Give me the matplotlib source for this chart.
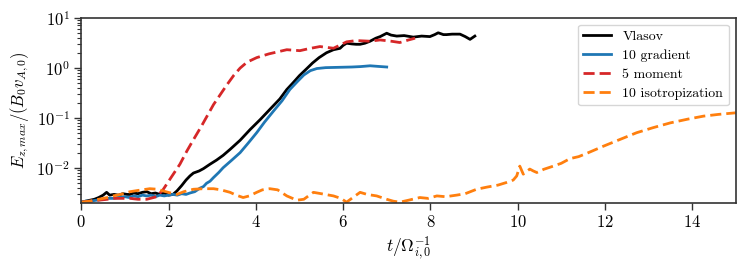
import matplotlib
matplotlib.use("Agg")
import matplotlib.pyplot as plt

# ---------------- data ----------------
t_vlasov = [0, 0.1, 0.2, 0.3, 0.4, 0.5, 0.58, 0.65, 0.75, 0.85, 0.95, 1.05, 1.12, 1.2, 1.3,
            1.4, 1.5, 1.6, 1.7, 1.8, 1.9, 2.0, 2.1, 2.19, 2.3, 2.4, 2.49, 2.57, 2.7, 2.8, 2.95,
            3.1, 3.25, 3.41, 3.64, 3.87, 4.1, 4.32, 4.55, 4.71, 4.85, 5.0, 5.17, 5.3, 5.45,
            5.62, 5.78, 5.93, 6.0, 6.08, 6.2, 6.3, 6.39, 6.5, 6.62, 6.75, 6.85, 7.0, 7.1,
            7.23, 7.4, 7.61, 7.8, 7.99, 8.1, 8.18, 8.3, 8.37, 8.5, 8.68, 8.8, 8.91, 9.02]
y_vlasov = [0.0021, 0.0022, 0.0023, 0.0024, 0.0026, 0.0029, 0.0033, 0.0029, 0.0030, 0.0029,
            0.0031, 0.0030, 0.0030, 0.0032, 0.0031, 0.0033, 0.0034, 0.0031, 0.0032, 0.0030,
            0.0032, 0.0029, 0.0030, 0.0035, 0.0045, 0.0058, 0.0070, 0.0080, 0.0088, 0.0098,
            0.0120, 0.0145, 0.0180, 0.0237, 0.036, 0.059, 0.093, 0.148, 0.24, 0.37, 0.50,
            0.70, 0.97, 1.25, 1.6, 2.0, 2.3, 2.45, 2.8, 3.1, 3.0, 2.95, 2.95, 3.1, 3.4, 3.9,
            4.2, 4.9, 4.5, 4.3, 4.4, 4.1, 4.3, 4.2, 4.6, 5.0, 4.6, 4.6, 4.7, 4.7, 4.2, 3.7, 4.3]

t_grad = [0, 0.1, 0.2, 0.35, 0.5, 0.6, 0.73, 0.85, 1.0, 1.1, 1.2, 1.3, 1.4, 1.5, 1.6, 1.7,
          1.8, 1.9, 2.0, 2.1, 2.2, 2.3, 2.4, 2.49, 2.6, 2.72, 2.8, 2.87, 2.95, 3.03, 3.15,
          3.25, 3.45, 3.64, 3.83, 4.02, 4.2, 4.4, 4.6, 4.78, 4.95, 5.1, 5.25, 5.4, 5.6, 5.8,
          6.0, 6.2, 6.4, 6.62, 6.8, 7.0]
y_grad = [0.0021, 0.0022, 0.0022, 0.0023, 0.0024, 0.0025, 0.0025, 0.0026, 0.0027, 0.0026,
          0.0028, 0.0027, 0.0029, 0.0028, 0.0029, 0.0027, 0.0029, 0.0028, 0.0029, 0.0030,
          0.0029, 0.0031, 0.0030, 0.0032, 0.0034, 0.0040, 0.0043, 0.0050, 0.0055, 0.0065,
          0.0082, 0.0102, 0.0145, 0.0204, 0.032, 0.051, 0.083, 0.136, 0.22, 0.37, 0.53,
          0.72, 0.88, 0.97, 1.01, 1.02, 1.03, 1.04, 1.06, 1.1, 1.07, 1.04]

t_five = [0, 0.2, 0.4, 0.6, 0.73, 0.9, 1.12, 1.3, 1.5, 1.73, 1.88, 2.03, 2.26, 2.42, 2.57,
          2.75, 3.03, 3.33, 3.5, 3.64, 3.8, 4.02, 4.3, 4.71, 5.01, 5.2, 5.47, 5.78, 6.08,
          6.3, 6.61, 6.85, 7.1, 7.3, 7.5, 7.65]
y_five = [0.0021, 0.0022, 0.0023, 0.0024, 0.0025, 0.0025, 0.0025, 0.0024, 0.0024, 0.0027,
          0.0038, 0.0060, 0.0120, 0.022, 0.037, 0.068, 0.185, 0.45, 0.72, 0.99, 1.3, 1.6,
          1.9, 2.3, 2.2, 2.4, 2.66, 2.46, 3.3, 3.5, 3.4, 3.6, 3.4, 3.2, 3.6, 3.9]

t_iso = [0, 0.2, 0.4, 0.6, 0.73, 0.9, 1.12, 1.3, 1.57, 1.75, 1.88, 2.05, 2.19, 2.35, 2.57,
         2.8, 3.03, 3.2, 3.41, 3.55, 3.71, 3.85, 4.02, 4.15, 4.32, 4.5, 4.71, 4.94, 5.1,
         5.32, 5.5, 5.78, 5.95, 6.08, 6.25, 6.39, 6.55, 6.77, 7.0, 7.15, 7.3, 7.5, 7.76,
         7.95, 8.15, 8.35, 8.6, 8.8, 9.06, 9.3, 9.55, 9.75, 9.9, 9.98, 10.05, 10.13, 10.2,
         10.28, 10.36, 10.44, 10.6, 10.82, 11.0, 11.2, 11.4, 11.6, 11.97, 12.3, 12.73,
         13.1, 13.5, 13.9, 14.26, 14.6, 15.0]
y_iso = [0.0021, 0.0022, 0.0024, 0.0026, 0.0028, 0.0030, 0.0034, 0.0036, 0.0039, 0.0038,
         0.0035, 0.0032, 0.0030, 0.0034, 0.0038, 0.0039, 0.0039, 0.0037, 0.0033, 0.0029,
         0.0026, 0.0028, 0.0033, 0.0037, 0.0039, 0.0037, 0.0028, 0.0023, 0.0024, 0.0033,
         0.0031, 0.0028, 0.0025, 0.0021, 0.0027, 0.0033, 0.0030, 0.0028, 0.0024, 0.0022,
         0.0021, 0.0023, 0.0026, 0.0025, 0.0028, 0.0027, 0.0029, 0.0031, 0.0038, 0.0042,
         0.0046, 0.0052, 0.0058, 0.0070, 0.0110, 0.0076, 0.0085, 0.0096, 0.0088, 0.0082,
         0.0095, 0.0110, 0.0125, 0.0155, 0.0170, 0.020, 0.0275, 0.036, 0.051, 0.064,
         0.080, 0.095, 0.109, 0.118, 0.127]

labels = ["Vlasov", "10 gradient", "5 moment", "10 isotropization"]
xticks = [0, 2, 4, 6, 8, 10, 12, 14]

# ---------------- style ----------------
plt.rcParams["font.family"] = ["cmr10", "DejaVu Serif"]
plt.rcParams["mathtext.fontset"] = "cm"
plt.rcParams["axes.formatter.use_mathtext"] = True
plt.rcParams["font.size"] = 12

fig = plt.figure(figsize=(7.48, 2.71), dpi=100)
ax = fig.add_axes([0.1087, 0.252, 0.8749, 0.6827])

dash = (0, (4.0, 1.8))
ax.plot(t_vlasov, y_vlasov, color="black", lw=2.0, label=labels[0])
ax.plot(t_grad, y_grad, color="#1f77b4", lw=2.0, label=labels[1])
ax.plot(t_five, y_five, color="#d62728", lw=2.0, ls=dash, label=labels[2])
ax.plot(t_iso, y_iso, color="#ff7f0e", lw=2.0, ls=dash, label=labels[3])

ax.set_yscale("log")
ax.set_xlim(0, 15)
ax.set_ylim(0.00205, 10)
ax.set_xticks(xticks)
ax.set_xlabel(r"$t/\Omega_{i,0}^{-1}$", fontsize=12.5, labelpad=4)
ax.set_ylabel(r"$E_{z,max}/(B_0v_{A,0})$", fontsize=12, labelpad=4)

for s in ax.spines.values():
    s.set_color("#333333")
    s.set_linewidth(1.2)
ax.tick_params(which="major", length=5, width=1.0, colors="#333333", labelcolor="black",
               labelsize=12, pad=3)
ax.tick_params(which="minor", length=3, width=0.8, colors="#333333")

leg = ax.legend(loc="upper right", fontsize=10, framealpha=0.8, edgecolor="#cccccc",
                borderaxespad=0.5, labelspacing=0.45, handlelength=2.0)

fig.savefig("out.png", dpi=100)
